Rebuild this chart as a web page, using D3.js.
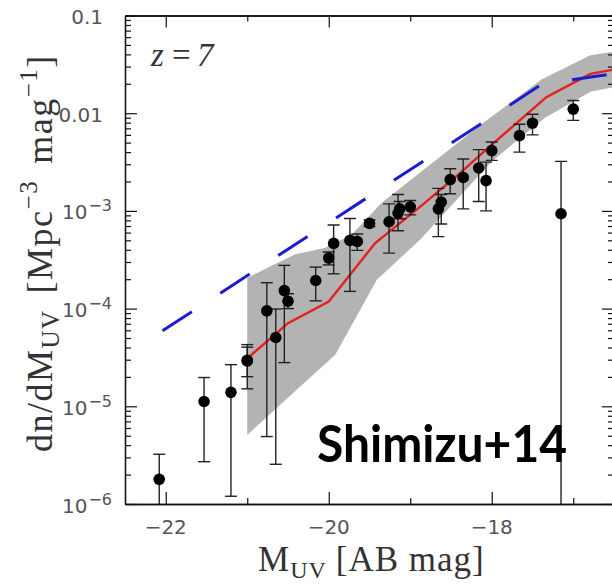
<!DOCTYPE html>
<html>
<head>
<meta charset="utf-8">
<script src="https://cdn.jsdelivr.net/npm/d3@7"></script>
<style>
  html, body { margin: 0; padding: 0; background: #fff; }
  svg { display: block; }
</style>
</head>
<body>
<svg id="chart" width="612" height="584"></svg>
<script>
// 观测点: M_UV, phi 以及误差上下限
const obsMag = [-22.08, -21.53, -21.20, -21.00, -21.00, -20.76, -20.65, -20.545, -20.50, -20.16,
  -20.00, -19.94, -19.74, -19.65, -19.50, -19.26, -19.15, -19.13, -19.00, -18.655,
  -18.62, -18.51, -18.35, -18.16, -18.07, -18.00, -17.66, -17.50, -17.15, -17.00]
const obsPhi = [1.79e-6, 1.12e-5, 1.39e-5, 2.92e-5, 2.95e-5, 9.5e-5, 5.06e-5, 1.53e-4, 1.19e-4, 1.94e-4,
  3.29e-4, 4.65e-4, 4.99e-4, 4.87e-4, 7.45e-4, 7.74e-4, 9.5e-4, 1.05e-3, 1.1e-3, 1.05e-3,
  1.23e-3, 2.09e-3, 2.2e-3, 2.75e-3, 2.04e-3, 4.14e-3, 5.89e-3, 7.9e-3, 9.35e-4, 1.1e-2]
const obsLo = [1e-7, 2.71e-6, 1.2e-6, 1.51e-5, 2.01e-5, 4.9e-6, 2.55e-6, 2.8e-5, 1.0e-4, 1.2e-4,
  2.8e-4, 2.27e-4, 1.5e-4, 3.94e-4, 6.9e-4, 3.7e-4, 6.27e-4, 8.3e-4, 9.1e-4, 5.45e-4,
  7.35e-4, 1.5e-3, 1.05e-3, 1.25e-3, 1.0e-3, 3.29e-3, 4.0e-3, 6.0e-3, 1e-7, 8.45e-3]
const obsHi = [3.23e-6, 1.97e-5, 2.67e-5, 4.28e-5, 4.03e-5, 1.84e-4, 9.9e-5, 2.77e-4, 1.42e-4, 2.66e-4,
  3.8e-4, 7.18e-4, 8.37e-4, 5.8e-4, 8.1e-4, 1.18e-3, 1.47e-3, 1.25e-3, 1.28e-3, 1.7e-3,
  1.47e-3, 2.7e-3, 3.4e-3, 4.24e-3, 3.16e-3, 5.08e-3, 7.7e-3, 9.76e-3, 3.21e-3, 1.35e-2]

// 模型范围 (灰色带)
const bandUpperMag = [-21.0, -20.41, -20.05, -19.72, -19.35, -18.13, -17.39, -16.79, -16.5]
const bandUpperPhi = [2.06e-4, 3.61e-4, 4.17e-4, 5.7e-4, 1.21e-3, 7.64e-3, 2.21e-2, 3.92e-2, 4.25e-2]
const bandLowerMag = [-21.0, -20.35, -19.92, -19.41, -18.88, -18.0, -17.35, -16.79, -16.5]
const bandLowerPhi = [5.09e-6, 1.59e-5, 3.37e-5, 1.97e-4, 5.07e-4, 3.21e-3, 8.95e-3, 1.66e-2, 1.85e-2]

// 模型中值 (红线)
const modelMag = [-21.0, -20.5, -20.0, -19.43, -18.88, -18.41, -18.0, -17.33, -16.79, -16.5]
const modelPhi = [3.09e-5, 7.1e-5, 1.18e-4, 4.69e-4, 1.1e-3, 2.35e-3, 4.76e-3, 1.46e-2, 2.53e-2, 2.8e-2]

// 虚线 (蓝)
const dashMag = [-22.04, -17.38, -16.5]
const dashPhi = [5.93e-5, 1.995e-2, 2.54e-2]

// 刻度
const xMajorTicks = [-22, -20, -18]
const xMinorTicks = [-21, -19, -17]
const xTickLabels = ['\u221222', '\u221220', '\u221218']
const yMajorTicks = [1e-6, 1e-5, 1e-4, 1e-3, 0.01, 0.1]
const yTickBase = ['10', '10', '10', '10', '0.01', '0.1']
const yTickExp = ['\u22126', '\u22125', '\u22124', '\u22123', '', '']

const W = 612
const H = 584
const plot = { left: 125, right: 614, top: 15.5, bottom: 504 }

const x = d3.scaleLinear().domain([-22.5, -16.5]).range([plot.left, plot.right])
const y = d3.scaleLog().domain([1e-6, 0.1]).range([plot.bottom, plot.top])

const svg = d3.select('#chart')

svg.append('rect')
  .attr('width', W)
  .attr('height', H)
  .attr('fill', '#fff')

svg.append('clipPath')
  .attr('id', 'plot-clip')
  .append('rect')
  .attr('x', plot.left)
  .attr('y', plot.top)
  .attr('width', plot.right - plot.left)
  .attr('height', plot.bottom - plot.top)

const inner = svg.append('g').attr('clip-path', 'url(#plot-clip)')

/**
 * 绘制灰色模型带
 */
function drawBand(selection) {
  const upper = bandUpperMag.map((m, i) => [m, bandUpperPhi[i]])
  const lower = bandLowerMag.map((m, i) => [m, bandLowerPhi[i]]).reverse()
  const line = d3.line().x(d => x(d[0])).y(d => y(d[1]))

  selection.append('path')
    .attr('d', line(upper.concat(lower)) + 'Z')
    .attr('fill', '#b3b3b3')
    .attr('stroke', 'none')
}

/**
 * 绘制折线
 */
function drawCurve(selection, opt) {
  const pts = opt.mag.map((m, i) => [m, opt.phi[i]])
  selection.append('path')
    .attr('d', d3.line().x(d => x(d[0])).y(d => y(d[1]))(pts))
    .attr('fill', 'none')
    .attr('stroke', opt.stroke)
    .attr('stroke-width', opt.width)
    .attr('stroke-dasharray', opt.dash || null)
}

/**
 * 绘制误差棒和数据点
 */
function drawPoints(selection) {
  const data = obsMag.map((m, i) => ({ m, v: obsPhi[i], lo: obsLo[i], hi: obsHi[i] }))
  const cap = 6

  const g = selection.append('g')
    .attr('stroke', '#222')
    .attr('stroke-width', 1.4)

  g.selectAll('line.bar')
    .data(data)
    .join('line')
    .classed('bar', true)
    .attr('x1', d => x(d.m))
    .attr('x2', d => x(d.m))
    .attr('y1', d => y(d.hi))
    .attr('y2', d => y(d.lo))

  g.selectAll('line.cap-hi')
    .data(data)
    .join('line')
    .classed('cap-hi', true)
    .attr('x1', d => x(d.m) - cap)
    .attr('x2', d => x(d.m) + cap)
    .attr('y1', d => y(d.hi))
    .attr('y2', d => y(d.hi))

  g.selectAll('line.cap-lo')
    .data(data)
    .join('line')
    .classed('cap-lo', true)
    .attr('x1', d => x(d.m) - cap)
    .attr('x2', d => x(d.m) + cap)
    .attr('y1', d => y(d.lo))
    .attr('y2', d => y(d.lo))

  selection.selectAll('circle')
    .data(data)
    .join('circle')
    .attr('cx', d => x(d.m))
    .attr('cy', d => y(d.v))
    .attr('r', 5.8)
    .attr('fill', '#000')
}

drawBand(inner)
drawCurve(inner, { mag: modelMag, phi: modelPhi, stroke: '#e3211f', width: 2.4 })
drawCurve(inner, { mag: dashMag, phi: dashPhi, stroke: '#1c1cd0', width: 3, dash: '35,34' })
drawPoints(inner)

/**
 * 坐标轴样式
 */
function styleAxis(g) {
  g.selectAll('text').remove()
  g.selectAll('path.domain').attr('stroke', '#111').attr('stroke-width', 1.3)
  g.selectAll('line').attr('stroke', '#111').attr('stroke-width', 1.2)
}

const yMinorTicks = y.ticks().filter(v => !yMajorTicks.some(t => Math.abs(v / t - 1) < 1e-6))

const axes = svg.append('g')

// x 轴 (下, 上)
axes.append('g')
  .attr('transform', `translate(0,${plot.bottom})`)
  .call(d3.axisBottom(x).tickValues(xMajorTicks).tickSize(-12).tickSizeOuter(0))
  .call(styleAxis)
axes.append('g')
  .attr('transform', `translate(0,${plot.bottom})`)
  .call(d3.axisBottom(x).tickValues(xMinorTicks).tickSize(-6).tickSizeOuter(0))
  .call(styleAxis)
axes.append('g')
  .attr('transform', `translate(0,${plot.top})`)
  .call(d3.axisTop(x).tickValues(xMajorTicks).tickSize(-12).tickSizeOuter(0))
  .call(styleAxis)
axes.append('g')
  .attr('transform', `translate(0,${plot.top})`)
  .call(d3.axisTop(x).tickValues(xMinorTicks).tickSize(-6).tickSizeOuter(0))
  .call(styleAxis)

// y 轴 (左, 右)
axes.append('g')
  .attr('transform', `translate(${plot.left},0)`)
  .call(d3.axisLeft(y).tickValues(yMajorTicks).tickSize(-12).tickSizeOuter(0))
  .call(styleAxis)
axes.append('g')
  .attr('transform', `translate(${plot.left},0)`)
  .call(d3.axisLeft(y).tickValues(yMinorTicks).tickSize(-6).tickSizeOuter(0))
  .call(styleAxis)
axes.append('g')
  .attr('transform', `translate(${plot.right},0)`)
  .call(d3.axisRight(y).tickValues(yMajorTicks).tickSize(-12).tickSizeOuter(0))
  .call(styleAxis)
axes.append('g')
  .attr('transform', `translate(${plot.right},0)`)
  .call(d3.axisRight(y).tickValues(yMinorTicks).tickSize(-6).tickSizeOuter(0))
  .call(styleAxis)

// 刻度文字
const tickFont = 'DejaVu Sans, sans-serif'

svg.append('g')
  .selectAll('text')
  .data(xMajorTicks)
  .join('text')
  .attr('x', d => x(d))
  .attr('y', 534)
  .attr('text-anchor', 'middle')
  .attr('font-family', tickFont)
  .attr('font-size', 20)
  .attr('fill', '#555')
  .text((d, i) => xTickLabels[i])

const yLabels = svg.append('g')
  .attr('font-family', tickFont)
  .attr('fill', '#555')

yMajorTicks.forEach((t, i) => {
  if (yTickExp[i]) {
    const text = yLabels.append('text')
      .attr('x', 62)
      .attr('y', y(t) + 8.5)
      .attr('font-size', 20)
    text.append('tspan').text(yTickBase[i])
    text.append('tspan')
      .attr('dx', 1)
      .attr('dy', -8)
      .attr('font-size', 16)
      .text(yTickExp[i])
  } else {
    yLabels.append('text')
      .attr('x', 103)
      .attr('y', y(t) + 8.5)
      .attr('text-anchor', 'end')
      .attr('font-size', 20)
      .text(yTickBase[i])
  }
})

// 坐标轴标题
const serif = 'Liberation Serif, serif'

const xTitle = svg.append('text')
  .attr('x', 258)
  .attr('y', 571)
  .attr('font-family', serif)
  .attr('font-size', 35)
  .attr('letter-spacing', 1)
  .attr('fill', '#333')
xTitle.append('tspan').text('M')
xTitle.append('tspan').attr('dy', 7).attr('font-size', 24).text('UV')
xTitle.append('tspan').attr('dy', -7).attr('dx', 9).text('[AB mag]')

const yTitle = svg.append('text')
  .attr('transform', 'translate(52,452) rotate(-90)')
  .attr('font-family', serif)
  .attr('font-size', 36)
  .attr('letter-spacing', 1.5)
  .attr('fill', '#333')
yTitle.append('tspan').text('dn/dM')
yTitle.append('tspan').attr('dy', 7).attr('font-size', 25).text('UV')
yTitle.append('tspan').attr('dy', -7).attr('dx', 16).text('[Mpc')
yTitle.append('tspan').attr('dy', -15).attr('font-size', 25).text('\u22123')
yTitle.append('tspan').attr('dy', 15).attr('dx', 16).text('mag')
yTitle.append('tspan').attr('dy', -15).attr('font-size', 25).text('\u22121')
yTitle.append('tspan').attr('dy', 15).text(']')

// 标注
const zLabel = svg.append('text')
  .attr('y', 66)
  .attr('font-family', serif)
  .attr('font-size', 33)
  .attr('fill', '#333')
zLabel.append('tspan').attr('x', 151).attr('font-style', 'italic').text('z')
zLabel.append('tspan').attr('x', 172).text('=')
zLabel.append('tspan').attr('x', 197).attr('font-style', 'italic').text('7')

svg.append('text')
  .attr('x', 317)
  .attr('y', 462)
  .attr('font-family', 'Lato, sans-serif')
  .attr('font-weight', 700)
  .attr('font-size', 52)
  .attr('textLength', 250)
  .attr('lengthAdjust', 'spacingAndGlyphs')
  .attr('fill', '#000')
  .text('Shimizu+14')
</script>
</body>
</html>
